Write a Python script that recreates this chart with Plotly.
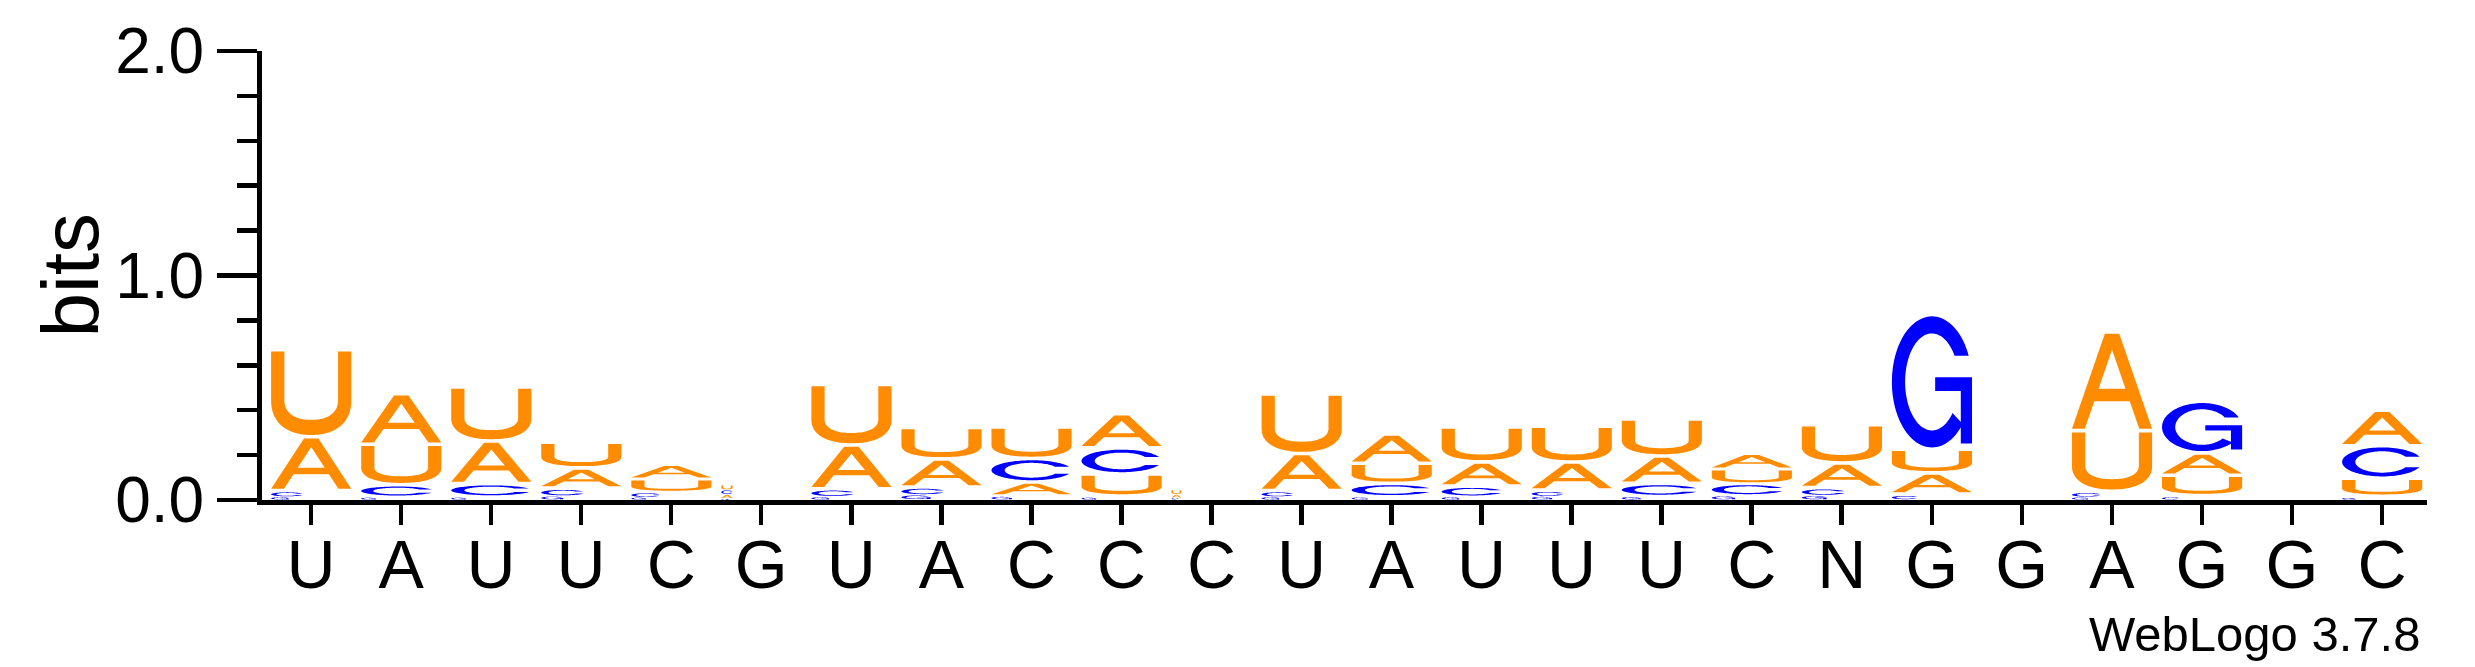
import numpy as np
import plotly.graph_objects as go

# ---------------- data ----------------
labels = list("UAUUCGUACCCUAUUUCNGGAGGC")
h_A = [0.24, 0.225, 0.19, 0.09, 0.065, 0.018, 0.195, 0.125, 0.058, 0.152, 0.015, 0.165,
       0.13, 0.108, 0.125, 0.122, 0.07, 0.11, 0.095, 0.0, 0.44, 0.10, 0.0, 0.158]
h_C = [0.022, 0.05, 0.055, 0.03, 0.02, 0.02, 0.03, 0.03, 0.105, 0.116, 0.005, 0.022,
       0.055, 0.042, 0.022, 0.053, 0.05, 0.03, 0.018, 0.0, 0.02, 0.012, 0.0, 0.145]
h_G = [0.012, 0.01, 0.01, 0.015, 0.01, 0.005, 0.012, 0.02, 0.014, 0.01, 0.003, 0.012,
       0.011, 0.012, 0.014, 0.013, 0.016, 0.017, 0.60, 0.0, 0.011, 0.23, 0.0, 0.009]
h_U = [0.388, 0.18, 0.24, 0.115, 0.057, 0.022, 0.27, 0.14, 0.14, 0.098, 0.02, 0.265,
       0.09, 0.155, 0.16, 0.165, 0.065, 0.17, 0.105, 0.0, 0.27, 0.09, 0.0, 0.08]
stack_width = [1, 1, 1, 1, 1, 0.14, 1, 1, 1, 1, 0.12, 1,
               1, 1, 1, 1, 1, 1, 1, 1, 1, 1, 1, 1]
y_ticks = [0.0, 1.0, 2.0]
y_minor = [0.2, 0.4, 0.6, 0.8, 1.2, 1.4, 1.6, 1.8]

colors = {"A": "#FF8C00", "U": "#FF8C00", "C": "#0000FF", "G": "#0000FF"}
FONT = "Liberation Sans, Arial, Helvetica, sans-serif"


# ---------------- glyph outlines (unit box, y up) ----------------
def arc(cx, cy, rx, ry, t0, t1, n=48, p=2.0):
    t = np.radians(np.linspace(t0, t1, n))
    c, s = np.cos(t), np.sin(t)
    x = cx + rx * np.sign(c) * np.abs(c) ** (2.0 / p)
    y = cy + ry * np.sign(s) * np.abs(s) ** (2.0 / p)
    return list(zip(x, y))


def area(poly):
    a = 0.0
    for i in range(len(poly)):
        x1, y1 = poly[i]
        x2, y2 = poly[(i + 1) % len(poly)]
        a += x1 * y2 - x2 * y1
    return a / 2


def orient(poly, ccw=True):
    return poly if (area(poly) > 0) == ccw else poly[::-1]


def glyph_U():
    s, b, cy = 0.165, 0.18, 0.42
    pts = [(0, 1), (0, cy)]
    pts += arc(0.5, cy, 0.5, cy, 180, 360, p=2.3)
    pts += [(1, 1), (1 - s, 1), (1 - s, cy)]
    pts += arc(0.5, cy, 0.5 - s, cy - b, 360, 180, p=2.3)
    pts += [(s, cy), (s, 1)]
    return [orient(pts, True)]


def glyph_A():
    outer = [(0, 0), (0.16, 0), (0.279, 0.29), (0.721, 0.29), (0.84, 0), (1, 0),
             (0.59, 1), (0.41, 1)]
    hole = [(0.332, 0.42), (0.668, 0.42), (0.5, 0.83)]
    return [orient(outer, True), orient(hole, False)]


def ring(yt, yb, t_end=None, rxi=0.335, ryi=0.37):
    to = np.degrees(np.arcsin((yt - 0.5) / 0.5))
    ti = np.degrees(np.arcsin((yt - 0.5) / ryi))
    if t_end is None:
        bo = 360 + np.degrees(np.arcsin((yb - 0.5) / 0.5))
        bi = 360 + np.degrees(np.arcsin((yb - 0.5) / ryi))
    else:
        bo = bi = t_end
    pts = arc(0.5, 0.5, 0.5, 0.5, to, bo, n=90)
    pts += arc(0.5, 0.5, rxi, ryi, bi, ti, n=90)
    return orient(pts, True)


def glyph_C():
    return [ring(0.68, 0.32)]


def glyph_G():
    r = ring(0.70, None, t_end=320)
    bar = [(0.54, 0.43), (1.0, 0.43), (1.0, 0.535), (0.54, 0.535)]
    stem = [(0.86, 0.03), (1.0, 0.03), (1.0, 0.535), (0.86, 0.535)]
    return [r, orient(bar, True), orient(stem, True)]


GLYPHS = {"A": glyph_A(), "C": glyph_C(), "G": glyph_G(), "U": glyph_U()}

# ---------------- build stacks ----------------
LEFT, FULLW = -0.443, 0.89
shapes = []
heights = {"A": h_A, "C": h_C, "G": h_G, "U": h_U}
for i in range(len(labels)):
    letters = sorted([(heights[k][i], k) for k in "ACGU"], key=lambda t: t[0])
    y0 = 0.0
    for h, k in letters:
        if h <= 0:
            continue
        pad = min(0.016, 0.2 * h)
        wf = min(stack_width[i], h / 0.055, 1.0)
        x0 = i + LEFT
        w = FULLW * wf
        gh = h - pad
        gb = y0 + pad
        parts = []
        for poly in GLYPHS[k]:
            seg = " L ".join(f"{x0 + w * u:.5f},{gb + gh * v:.5f}" for u, v in poly)
            parts.append("M " + seg + " Z")
        shapes.append(dict(type="path", path=" ".join(parts), xref="x", yref="y",
                           fillcolor=colors[k], fillrule="nonzero",
                           line=dict(width=0), layer="above"))
        y0 += h

fig = go.Figure()
fig.add_trace(go.Scatter(x=[0, 23], y=[0, 0], mode="markers",
                         marker=dict(opacity=0), hoverinfo="skip", showlegend=False))

W, H = 2475, 667
ML, MR, MT, MB = 262, 48, 51, 167
fig.update_layout(
    width=W, height=H,
    margin=dict(l=ML, r=MR, t=MT, b=MB, pad=0),
    paper_bgcolor="white", plot_bgcolor="white",
    shapes=shapes,
    showlegend=False,
    font=dict(family=FONT, color="black"),
    xaxis=dict(range=[-0.5 - 4.0 / 90, len(labels) - 0.5], tickmode="array",
               tickvals=list(range(len(labels))), ticktext=labels,
               ticks="outside", ticklen=20, tickwidth=4.5, tickcolor="black",
               ticklabelstandoff=-19,
               showline=True, linewidth=5, linecolor="black",
               showgrid=False, zeroline=False, automargin=False,
               tickfont=dict(size=68, family=FONT, color="black")),
    yaxis=dict(range=[0, 2], tickmode="array", tickvals=y_ticks,
               ticktext=[f"{v:.1f}" for v in y_ticks],
               ticks="outside", ticklen=40, tickwidth=4.5, tickcolor="black",
               minor=dict(tickvals=y_minor, ticks="outside", ticklen=20,
                          tickwidth=4.5, tickcolor="black", showgrid=False),
               showline=True, linewidth=5, linecolor="black",
               showgrid=False, zeroline=False, automargin=False,
               tickfont=dict(size=64, family=FONT, color="black")),
    annotations=[
        dict(text="bits", textangle=-90, xref="paper", yref="paper",
             x=(70 - ML) / (W - ML - MR), y=0.5, xanchor="center", yanchor="middle",
             showarrow=False, font=dict(size=80, family=FONT, color="black")),
        dict(text="WebLogo 3.7.8", xref="paper", yref="paper",
             x=(2422 - ML) / (W - ML - MR), y=(500 - 634) / (H - MT - MB),
             xanchor="right", yanchor="middle", showarrow=False,
             font=dict(size=49, family=FONT, color="black")),
    ],
)

fig.write_html("out.html",
               config={"displayModeBar": False, "staticPlot": True},
               post_script="document.body.style.margin='0px';"
                           "document.body.style.overflow='hidden';")
